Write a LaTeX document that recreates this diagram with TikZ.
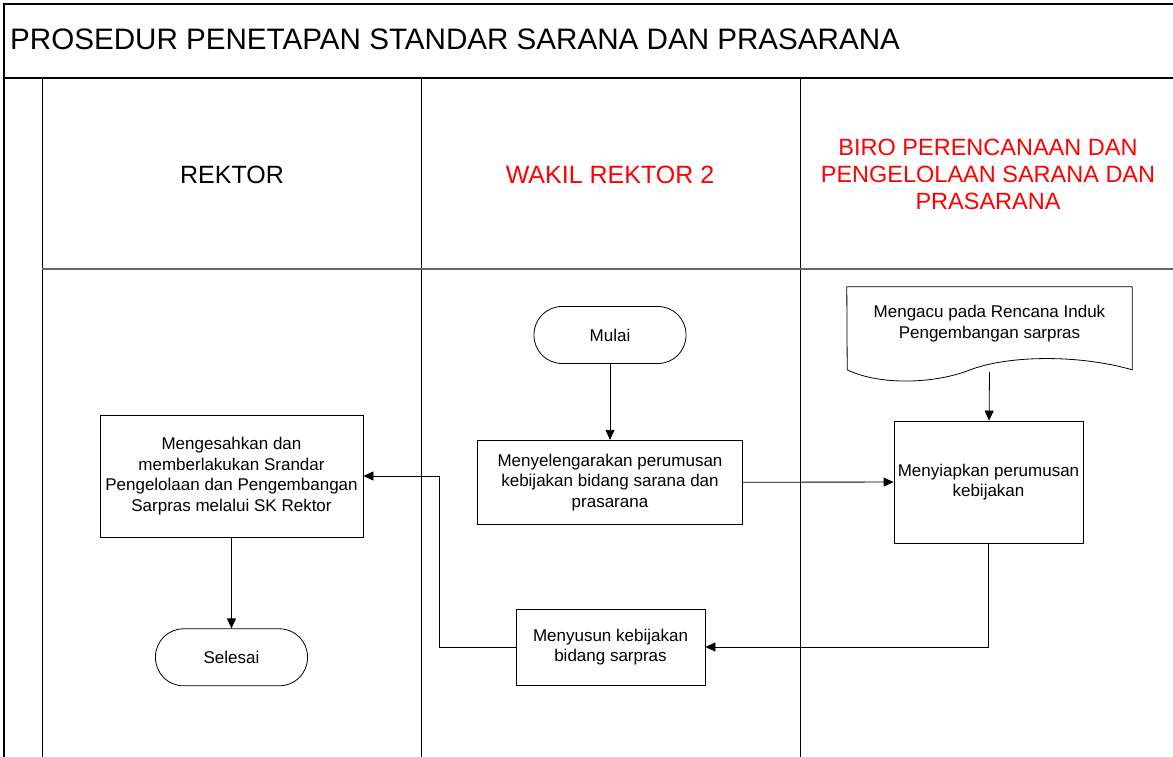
\documentclass[tikz,border=0pt]{standalone}
\usepackage{fontspec}
\setmainfont{Liberation Sans}
\usetikzlibrary{arrows.meta,positioning}

\begin{document}
\begin{tikzpicture}[
  x=1pt, y=-1pt,
  every node/.style={font=\fontsize{17}{20.5}\selectfont, align=center},
  box/.style={draw, line width=0.8pt, inner sep=0pt},
  term/.style={draw, line width=0.8pt, rounded corners=28pt, minimum width=152pt, minimum height=57pt},
  lane/.style={font=\fontsize{25}{27}\selectfont},
  line/.style={line width=0.8pt, -{Triangle[length=10pt,width=9pt]}}
]
\useasboundingbox (0,0) rectangle (1173,757);

% frame and lanes
\draw[line width=1.2pt] (1173,4) -- (4,4) -- (4,757);
\draw[line width=1.6pt] (4,78) -- (1173,78);
\foreach \x in {42,421,800} \draw[line width=0.9pt] (\x,78) -- (\x,757);
\draw[line width=1.1pt, black!60] (42,269) -- (1173,269);

\node[anchor=west, inner sep=0pt, font=\fontsize{29.6}{29.6}\selectfont] (judul) at (10,39) {PROSEDUR PENETAPAN STANDAR SARANA DAN PRASARANA};
\node[lane] (rektor) at (232,175) {REKTOR};
\node[lane, text=red] (wakil) at (610,175) {WAKIL REKTOR 2};
\node[lane, text=red, font=\fontsize{23.5}{27}\selectfont] (biro) at (988,174) {BIRO PERENCANAAN DAN\\PENGELOLAAN SARANA DAN\\PRASARANA};

% steps
\node[term] (mulai) at (610,335) {Mulai};
\node[box, minimum width=265pt, minimum height=84pt, below=76pt of mulai] (selenggara) {Menyelengarakan perumusan\\kebijakan bidang sarana dan\\prasarana};
\node[inner sep=0pt, minimum width=285pt, minimum height=73pt] (acuan) at (989.5,323.5) {Mengacu pada Rencana Induk\\Pengembangan sarpras};
\draw[line width=0.8pt] (acuan.north west) -- (acuan.north east) -- ++(0,83)
  .. controls +(-52,-15) and +(40,-15) .. ++(-162,0)
  .. controls +(-35,14) and +(33,16) .. ++(-123,0) -- cycle;
\coordinate (acuanbawah) at ([yshift=-12pt]acuan.south);
\node[box, minimum width=189pt, minimum height=122pt] (siap) at (988.5,482) {Menyiapkan perumusan\\kebijakan};
\node[box, minimum width=189pt, minimum height=76pt] (susun) at (610.5,647) {Menyusun kebijakan\\bidang sarpras};
\node[box, minimum width=263pt, minimum height=122pt] (sahkan) at (231.5,476) {Mengesahkan dan\\memberlakukan Srandar\\Pengelolaan dan Pengembangan\\Sarpras melalui SK Rektor};
\node[term, below=91pt of sahkan] (selesai) {Selesai};

\draw[line] (mulai) -- (selenggara);
\draw[line] (acuanbawah) -- (siap);
\draw[line] (selenggara) -- (siap);
\draw[line] (siap) |- (susun);
\draw[line] (susun.west) -- ++(-76,0) |- (sahkan);
\draw[line] (sahkan) -- (selesai);

\end{tikzpicture}
\end{document}
